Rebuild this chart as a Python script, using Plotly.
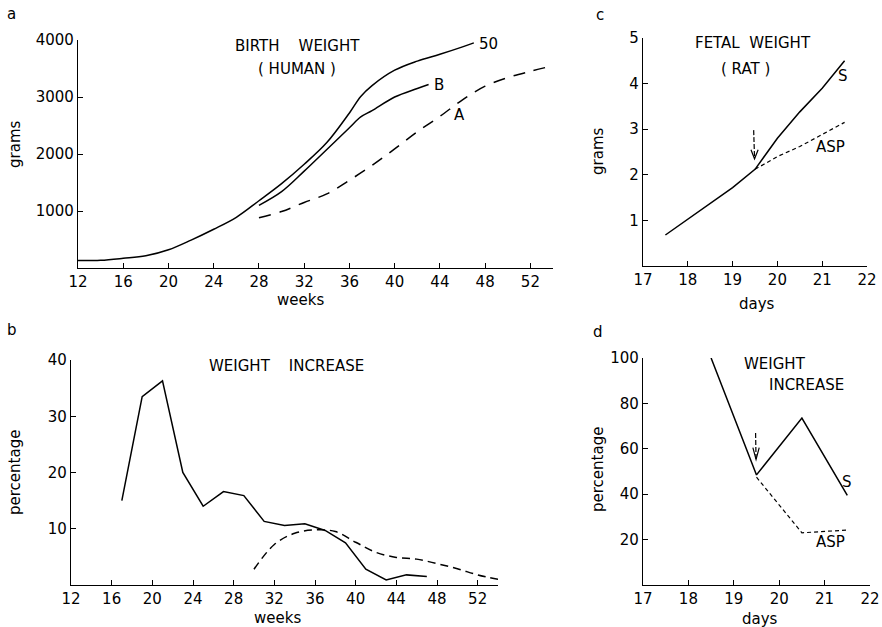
import plotly.graph_objects as go

# panel a: birth weight (human), grams by week
weeks_50 = [12, 14, 16, 18, 20, 22, 24, 26, 28, 30, 32, 34, 36, 37, 38, 40, 42, 44, 46, 47]
grams_50 = [130, 135, 170, 215, 320, 490, 680, 890, 1180, 1480, 1820, 2200, 2720, 3010, 3200, 3470, 3630, 3750, 3880, 3950]
weeks_b = [28, 30, 32, 34, 36, 37, 38, 40, 42, 43]
grams_b = [1100, 1340, 1700, 2080, 2460, 2650, 2760, 3000, 3150, 3220]
weeks_a = [28, 30, 32, 34, 36, 38, 40, 42, 44, 46, 48, 50, 52, 54]
grams_a = [880, 990, 1150, 1300, 1540, 1800, 2090, 2390, 2660, 2950, 3190, 3340, 3450, 3550]

# panel b: weight increase (human), percentage by week
weeks_inc = [17, 19, 21, 23, 25, 27, 29, 31, 33, 35, 37, 39, 41, 43, 45, 47]
pct_inc = [15.0, 33.5, 36.3, 20.0, 14.0, 16.6, 15.9, 11.3, 10.6, 10.9, 9.7, 7.5, 2.8, 0.9, 1.8, 1.5]
weeks_inc_dash = [30, 32, 34, 36, 38, 40, 42, 44, 46, 48, 50, 52, 54]
pct_inc_dash = [2.8, 7.2, 9.2, 9.8, 9.5, 7.6, 5.8, 4.9, 4.6, 3.8, 2.9, 1.8, 1.0]

# panel c: fetal weight (rat), grams by day
days_s = [17.5, 18, 18.5, 19, 19.5, 20, 20.5, 21, 21.5]
grams_s = [0.68, 1.03, 1.37, 1.72, 2.12, 2.80, 3.38, 3.90, 4.50]
days_asp = [19.5, 20, 20.5, 21, 21.5]
grams_asp = [2.12, 2.40, 2.62, 2.88, 3.15]

# panel d: weight increase (rat), percentage by day
days_inc_s = [18.5, 19.5, 20.5, 21.5]
pct_inc_s = [100, 48.5, 73.5, 39.5]
days_inc_asp = [19.5, 20.5, 21.5]
pct_inc_asp = [47.5, 23, 24.2]

FONT = "DejaVu Sans"
W, H = 882, 627


def px_x(p):
    return p / W


def px_y(p):
    return 1 - p / H


fig = go.Figure()
black = dict(color="black", width=1.5)

fig.add_trace(go.Scatter(x=weeks_50, y=grams_50, mode="lines", line=dict(black, shape="spline"), xaxis="x", yaxis="y"))
fig.add_trace(go.Scatter(x=weeks_b, y=grams_b, mode="lines", line=dict(black, shape="spline"), xaxis="x", yaxis="y"))
fig.add_trace(go.Scatter(x=weeks_a, y=grams_a, mode="lines", line=dict(black, shape="spline", dash="12px,9px"), xaxis="x", yaxis="y"))

fig.add_trace(go.Scatter(x=weeks_inc, y=pct_inc, mode="lines", line=black, xaxis="x2", yaxis="y2"))
fig.add_trace(go.Scatter(x=weeks_inc_dash, y=pct_inc_dash, mode="lines", line=dict(black, shape="spline", dash="8px,5px"), xaxis="x2", yaxis="y2"))

fig.add_trace(go.Scatter(x=days_s, y=grams_s, mode="lines", line=black, xaxis="x3", yaxis="y3"))
fig.add_trace(go.Scatter(x=days_asp, y=grams_asp, mode="lines", line=dict(color="black", width=1.2, dash="4px,3px"), xaxis="x3", yaxis="y3"))

fig.add_trace(go.Scatter(x=days_inc_s, y=pct_inc_s, mode="lines", line=black, xaxis="x4", yaxis="y4"))
fig.add_trace(go.Scatter(x=days_inc_asp, y=pct_inc_asp, mode="lines", line=dict(color="black", width=1.2, dash="4px,3px"), xaxis="x4", yaxis="y4"))

axis_style = dict(
    showline=True, linecolor="black", linewidth=1.3, ticks="inside", ticklen=5,
    tickcolor="black", showgrid=False, zeroline=False, automargin=False,
    tickfont=dict(family=FONT, size=15, color="black"), fixedrange=True,
)

fig.update_layout(
    width=W, height=H, margin=dict(l=0, r=0, t=0, b=0),
    paper_bgcolor="white", plot_bgcolor="white", showlegend=False,
    font=dict(family=FONT, size=15, color="black"),
    xaxis=dict(axis_style, domain=[px_x(78), px_x(553)], range=[12, 54], tickvals=list(range(12, 53, 4)), anchor="y"),
    yaxis=dict(axis_style, domain=[px_y(268), px_y(40)], range=[0, 4000], tickvals=[1000, 2000, 3000, 4000], anchor="x"),
    xaxis2=dict(axis_style, domain=[px_x(71), px_x(498)], range=[12, 54], tickvals=list(range(12, 53, 4)), anchor="y2"),
    yaxis2=dict(axis_style, domain=[px_y(585), px_y(360)], range=[0, 40], tickvals=[10, 20, 30, 40], anchor="x2"),
    xaxis3=dict(axis_style, domain=[px_x(643), px_x(867)], range=[17, 22], tickvals=[17, 18, 19, 20, 21, 22], anchor="y3"),
    yaxis3=dict(axis_style, domain=[px_y(266), px_y(38)], range=[0, 5], tickvals=[1, 2, 3, 4, 5], anchor="x3"),
    xaxis4=dict(axis_style, domain=[px_x(643), px_x(870)], range=[17, 22], tickvals=[17, 18, 19, 20, 21, 22], anchor="y4"),
    yaxis4=dict(axis_style, domain=[px_y(585), px_y(358)], range=[0, 100], tickvals=[20, 40, 60, 80, 100], anchor="x4"),
)

sp = "\u00a0"
notes = [
    ("x", "y", 31.4, 3900, f"BIRTH{sp*4}WEIGHT"),
    ("x", "y", 31.4, 3500, f"({sp}HUMAN{sp})"),
    ("x", "y", 48.3, 3930, "50"),
    ("x", "y", 43.9, 3210, "B"),
    ("x", "y", 45.7, 2690, "A"),
    ("x2", "y2", 33.2, 39.0, f"WEIGHT{sp*4}INCREASE"),
    ("x3", "y3", 19.46, 4.88, f"FETAL{sp*2}WEIGHT"),
    ("x3", "y3", 19.28, 4.33, f"({sp}RAT{sp})"),
    ("x3", "y3", 21.47, 4.17, "S"),
    ("x3", "y3", 21.18, 2.62, "ASP"),
    ("x4", "y4", 19.91, 97.5, "WEIGHT"),
    ("x4", "y4", 20.61, 88.0, "INCREASE"),
    ("x4", "y4", 21.5, 45.4, "S"),
    ("x4", "y4", 21.14, 19.0, "ASP"),
]
for xr, yr, x, y, t in notes:
    fig.add_annotation(x=x, y=y, xref=xr, yref=yr, text=t, showarrow=False,
                       xanchor="center", yanchor="middle",
                       font=dict(family=FONT, size=15, color="black"))

paper_notes = [
    (11, 14, "a", 0), (12, 330, "b", 0), (600, 15, "c", 0), (598, 332, "d", 0),
    (300, 300, "weeks", 0), (277, 618, "weeks", 0), (757, 304, "days", 0), (760, 619, "days", 0),
    (15, 145, "grams", -90), (15, 473, "percentage", -90), (598, 152, "grams", -90), (598, 470, "percentage", -90),
]
for x, y, t, ang in paper_notes:
    fig.add_annotation(x=px_x(x), y=px_y(y), xref="paper", yref="paper", text=t, showarrow=False,
                       xanchor="center", yanchor="middle", textangle=ang,
                       font=dict(family=FONT, size=15, color="black"))

# arrows marking the start of treatment
arrow_line = dict(color="black", width=1.2)
fig.add_shape(type="line", xref="x3", yref="y3", x0=19.47, x1=19.49, y0=2.98, y1=2.36, line=dict(arrow_line, dash="5px,2px"))
fig.add_shape(type="path", xref="x3", yref="y3", path="M 19.41,2.55 L 19.49,2.35 L 19.57,2.55", line=arrow_line)
fig.add_shape(type="line", xref="x4", yref="y4", x0=19.48, x1=19.49, y0=67, y1=55.5, line=dict(arrow_line, dash="5px,2px"))
fig.add_shape(type="path", xref="x4", yref="y4", path="M 19.42,60.5 L 19.49,55.3 L 19.56,60.5", line=arrow_line)

# page body has a default 8px margin; remove it so the figure fills the window
fig.write_html("out.html", config={"displayModeBar": False},
               post_script="document.body.style.margin='0';")
